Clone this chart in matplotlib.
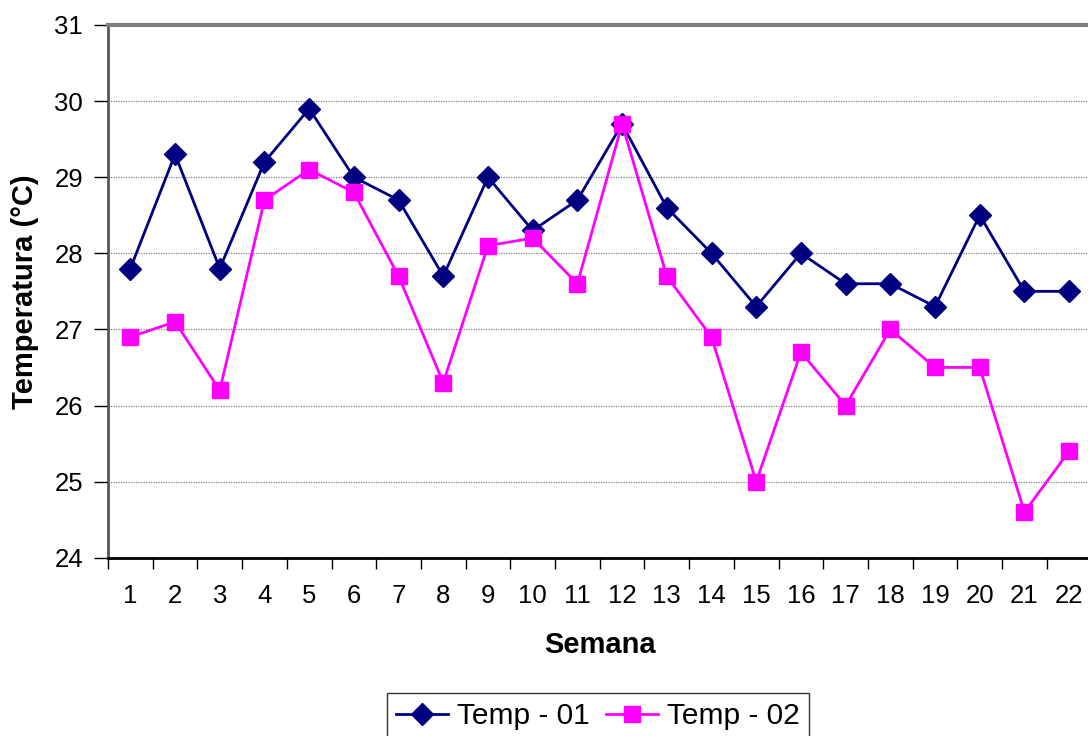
import numpy as np
import matplotlib
matplotlib.use('Agg')
import matplotlib.pyplot as plt

plt.rcParams['font.family'] = ['Liberation Sans', 'DejaVu Sans']

semana = np.arange(1, 23)
temp01 = [27.8, 29.3, 27.8, 29.2, 29.9, 29.0, 28.7, 27.7, 29.0, 28.3, 28.7,
          29.7, 28.6, 28.0, 27.3, 28.0, 27.6, 27.6, 27.3, 28.5, 27.5, 27.5]
temp02 = [26.9, 27.1, 26.2, 28.7, 29.1, 28.8, 27.7, 26.3, 28.1, 28.2, 27.6,
          29.7, 27.7, 26.9, 25.0, 26.7, 26.0, 27.0, 26.5, 26.5, 24.6, 25.4]

W, H = 1088, 736
fig = plt.figure(figsize=(W / 100, H / 100), dpi=100)
# axes box in pixels: left 108, right 1091.5 (clipped), top 25, bottom 557.7
ax_w = (1091.5 - 108) / W
ax_h = (557.7 - 25) / H
ax = fig.add_axes([108 / W, 1 - 557.7 / H, ax_w, ax_h])

ax.plot(semana, temp01, color='#000080', marker='D', markersize=11, lw=2,
        label='Temp - 01', clip_on=False, zorder=3)
ax.plot(semana, temp02, color='#FF00FF', marker='s', markersize=11, lw=2,
        label='Temp - 02', clip_on=False, zorder=3)

ax.set_xlim(0.5, 22.5)
ax.set_ylim(24, 31)
ax.set_yticks(range(24, 32))
ax.set_xticks(semana)
ax.set_xticks(np.arange(0.5, 23, 1), minor=True)
ax.tick_params(axis='x', which='major', length=0, pad=19, labelsize=18.5)
ax.tick_params(axis='x', which='minor', length=8, width=1, color='black', direction='out')
ax.tick_params(axis='y', length=10, width=1, color='black', labelsize=18.5, pad=8)

ax.grid(axis='y', which='major', color='#808080', linestyle=(0, (1, 1)), lw=0.9)
ax.set_axisbelow(True)

ax.spines['top'].set_color('#808080')
ax.spines['top'].set_linewidth(3)
ax.spines['left'].set_color('#555555')
ax.spines['left'].set_linewidth(2)
ax.spines['bottom'].set_color('black')
ax.spines['bottom'].set_linewidth(2)
ax.spines['right'].set_visible(False)

ax.set_xlabel('Semana', fontsize=21, fontweight='bold')
ax.set_ylabel('Temperatura (°C)', fontsize=21, fontweight='bold')
ax.xaxis.set_label_coords((600 - 108) / (W * ax_w), (557.7 - 645) / (H * ax_h))
ax.yaxis.set_label_coords((25 - 108) / (W * ax_w), 0.5)
ax.xaxis.label.set_va('center')
ax.yaxis.label.set_va('center')

leg = fig.legend(loc='upper center', bbox_to_anchor=(598 / W, 1 - 693 / H), ncol=2,
                 fontsize=21.5, frameon=True, fancybox=False, edgecolor='black',
                 handlelength=1.75, columnspacing=0.55, handletextpad=0.3,
                 borderpad=0.3, borderaxespad=0)
leg.get_frame().set_linewidth(1)

fig.savefig('out.png', dpi=100)
